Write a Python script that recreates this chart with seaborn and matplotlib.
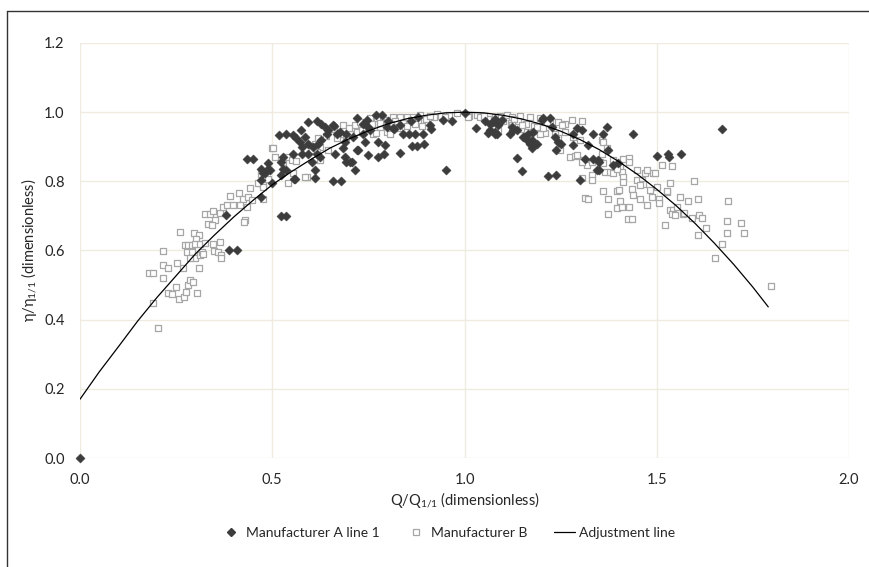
import matplotlib
matplotlib.use("Agg")
import matplotlib.pyplot as plt
from matplotlib.lines import Line2D
import seaborn as sns
import pandas as pd

# ---------------- data ----------------
a_x = [0.0, 0.38, 0.388, 0.409, 0.434, 0.451, 0.472, 0.481, 0.472, 0.49, 0.494, 0.477,
       0.471, 0.486, 0.499, 0.524, 0.536, 0.517, 0.535, 0.524, 0.529, 0.537, 0.524, 0.527,
       0.557, 0.555, 0.563, 0.572, 0.577, 0.585, 0.594, 0.616, 0.628, 0.637, 0.646, 0.659,
       0.668, 0.594, 0.607, 0.62, 0.628, 0.642, 0.594, 0.616, 0.624, 0.603, 0.555, 0.577,
       0.559, 0.611, 0.611, 0.659, 0.68, 0.663, 0.685, 0.689, 0.702, 0.715, 0.72, 0.741,
       0.75, 0.776, 0.72, 0.737, 0.75, 0.575, 0.661, 0.676, 0.693, 0.711, 0.737, 0.754,
       0.689, 0.691, 0.707, 0.724, 0.791, 0.776, 0.793, 0.833, 0.839, 0.856, 0.871, 0.891,
       0.864, 0.876, 0.895, 0.909, 0.913, 0.943, 0.967, 0.951, 1.0, 0.771, 0.785, 0.746,
       0.798, 0.815, 0.832, 0.817, 0.80, 0.86, 0.88,
       1.03, 1.053, 1.066, 1.062, 1.079, 1.088, 1.066, 1.075, 1.079, 1.097, 1.118, 1.123,
       1.136, 1.136, 1.149, 1.157, 1.166, 1.175, 1.179, 1.175, 1.188, 1.201, 1.222, 1.218,
       1.237, 1.235, 1.244, 1.238, 1.25, 1.283, 1.292, 1.305, 1.283, 1.30, 1.322, 1.333,
       1.361, 1.37, 1.374, 1.333, 1.351, 1.344, 1.351, 1.387, 1.40, 1.437, 1.50, 1.528,
       1.533, 1.562, 1.669, 1.084, 1.079, 1.127, 1.153, 1.162, 1.17, 1.179, 1.205, 1.227,
       1.313, 1.348]
a_y = [0.0, 0.702, 0.60, 0.60, 0.866, 0.866, 0.755, 0.823, 0.803, 0.853, 0.832, 0.823,
       0.835, 0.832, 0.794, 0.70, 0.70, 0.935, 0.937, 0.856, 0.837, 0.832, 0.818, 0.871,
       0.808, 0.934, 0.924, 0.914, 0.90, 0.929, 0.972, 0.975, 0.967, 0.958, 0.948, 0.962,
       0.938, 0.909, 0.90, 0.909, 0.919, 0.938, 0.88, 0.88, 0.871, 0.856, 0.88, 0.88,
       0.806, 0.832, 0.811, 0.801, 0.801, 0.88, 0.895, 0.871, 0.856, 0.832, 0.89, 0.914,
       0.876, 0.871, 0.982, 0.967, 0.958, 0.948, 0.96, 0.943, 0.938, 0.929, 0.938, 0.948,
       0.914, 0.856, 0.856, 0.892, 0.878, 0.914, 0.906, 0.882, 0.938, 0.938, 0.938, 0.938,
       0.902, 0.902, 0.908, 0.962, 0.951, 0.977, 0.975, 0.832, 0.998, 0.991, 0.991, 0.977,
       0.958, 0.953, 0.962, 0.95, 0.975, 0.975, 0.985,
       0.955, 0.975, 0.967, 0.941, 0.943, 0.962, 0.948, 0.972, 0.938, 0.977, 0.938, 0.958,
       0.948, 0.868, 0.829, 0.929, 0.938, 0.919, 0.909, 0.895, 0.909, 0.977, 0.982, 0.816,
       0.818, 0.929, 0.914, 0.892, 0.909, 0.938, 0.953, 0.948, 0.905, 0.805, 0.905, 0.938,
       0.938, 0.958, 0.89, 0.866, 0.856, 0.832, 0.832, 0.847, 0.852, 0.938, 0.873, 0.878,
       0.871, 0.879, 0.952, 0.938, 0.98, 0.948, 0.929, 0.919, 0.909, 0.943, 0.982, 0.958,
       0.866, 0.861]

b_x = [0.204, 0.191, 0.23, 0.238, 0.249, 0.258, 0.271, 0.276, 0.282, 0.286, 0.293, 0.305,
       0.31, 0.267, 0.253, 0.217, 0.23, 0.215, 0.18, 0.191, 0.215, 0.26, 0.297, 0.31, 0.302,
       0.273, 0.282, 0.29, 0.299, 0.312, 0.325, 0.277, 0.29, 0.299, 0.312, 0.316, 0.321,
       0.286, 0.347, 0.364, 0.349, 0.36, 0.368, 0.368, 0.325, 0.338, 0.351, 0.334, 0.343,
       0.345, 0.364, 0.373, 0.383, 0.39, 0.414, 0.425, 0.438, 0.442, 0.399, 0.416, 0.434,
       0.429, 0.427, 0.447, 0.468, 0.475, 0.477, 0.49, 0.47,
       0.499, 0.507, 0.529, 0.539, 0.551, 0.563, 0.542, 0.59, 0.624, 0.646, 0.624, 0.668,
       0.685, 0.72, 0.737, 0.754, 0.78, 0.798, 0.815, 0.832, 0.85, 0.867, 0.884, 0.928,
       1.011, 1.032, 0.798, 0.806, 0.78, 0.763, 0.503, 0.553, 0.585, 0.715, 0.728, 0.741,
       0.772, 0.702, 0.72, 0.733, 0.693, 0.676, 0.668, 0.62, 0.611, 0.603, 0.616, 0.464,
       0.477, 0.477,
       0.80, 0.82, 0.84, 0.86, 0.88, 0.90, 0.92, 0.94, 0.96, 0.85, 0.87, 0.83, 0.81, 0.76,
       0.78, 0.89, 0.91, 0.95, 0.98, 0.70, 0.66, 0.64, 0.75, 0.77,
       1.01, 1.092, 1.11, 1.123, 1.144, 1.17, 1.196, 1.222, 1.244, 1.261, 1.279, 1.305,
       1.253, 1.261, 1.244, 1.248, 1.235, 1.274, 1.287, 1.283, 1.30, 1.309, 1.318, 1.331,
       1.331, 1.305, 1.313, 1.322, 1.361, 1.374, 1.396, 1.402, 1.404, 1.374, 1.396, 1.409,
       1.429, 1.426, 1.435, 1.357, 1.361, 1.37, 1.352, 1.387, 1.413, 1.429, 1.429, 1.404,
       1.365, 1.378, 1.387, 1.409, 1.413, 1.413, 1.448, 1.469, 1.474, 1.491, 1.448, 1.461,
       1.465, 1.435, 1.439, 1.456, 1.474, 1.487, 1.50, 1.507, 1.513, 1.534, 1.526, 1.539,
       1.534, 1.543, 1.552, 1.56, 1.582, 1.521, 1.569, 1.591, 1.606, 1.609, 1.617, 1.597,
       1.606, 1.628, 1.669, 1.651, 1.682, 1.682, 1.686, 1.719, 1.727, 1.796,
       1.292, 1.305, 1.331, 1.361, 1.357, 1.396, 1.456, 1.482, 1.495, 1.507, 1.526, 1.539,
       1.547, 1.571,
       1.04, 1.06, 1.08, 1.10, 1.12, 1.14, 1.16, 1.18, 1.20, 1.15, 1.19, 1.21, 1.05, 1.13,
       1.088, 1.123, 1.149, 1.162, 1.188, 1.196, 1.205, 1.214]
b_y = [0.375, 0.449, 0.476, 0.474, 0.495, 0.461, 0.466, 0.481, 0.50, 0.514, 0.508, 0.476,
       0.55, 0.55, 0.565, 0.557, 0.55, 0.521, 0.534, 0.534, 0.599, 0.654, 0.652, 0.644, 0.632,
       0.616, 0.616, 0.616, 0.618, 0.618, 0.622, 0.596, 0.596, 0.577, 0.587, 0.596, 0.589,
       0.577, 0.618, 0.625, 0.598, 0.596, 0.587, 0.577, 0.705, 0.705, 0.688, 0.678, 0.673,
       0.715, 0.707, 0.725, 0.731, 0.757, 0.767, 0.75, 0.755, 0.782, 0.731, 0.731, 0.726,
       0.688, 0.683, 0.746, 0.794, 0.789, 0.823, 0.808, 0.821,
       0.897, 0.871, 0.856, 0.869, 0.863, 0.858, 0.794, 0.813, 0.861, 0.89, 0.90, 0.943,
       0.962, 0.962, 0.953, 0.982, 0.986, 0.977, 0.986, 0.986, 0.986, 0.986, 0.991, 0.996,
       0.988, 0.991, 0.943, 0.938, 0.958, 0.938, 0.895, 0.823, 0.813, 0.962, 0.972, 0.967,
       0.982, 0.938, 0.943, 0.948, 0.929, 0.938, 0.924, 0.924, 0.909, 0.89, 0.886, 0.794,
       0.784, 0.75,
       0.97, 0.975, 0.97, 0.978, 0.975, 0.98, 0.985, 0.99, 0.993, 0.96, 0.965, 0.955, 0.965,
       0.965, 0.97, 0.96, 0.99, 0.985, 0.997, 0.955, 0.95, 0.93, 0.95, 0.94,
       0.986, 0.988, 0.991, 0.986, 0.988, 0.986, 0.982, 0.972, 0.972, 0.967, 0.977, 0.974,
       0.962, 0.943, 0.924, 0.89, 0.938, 0.871, 0.873, 0.929, 0.919, 0.861, 0.847, 0.818,
       0.803, 0.811, 0.752, 0.75, 0.772, 0.75, 0.772, 0.775, 0.743, 0.705, 0.722, 0.725,
       0.725, 0.692, 0.692, 0.919, 0.914, 0.895, 0.856, 0.861, 0.866, 0.868, 0.856, 0.842,
       0.826, 0.826, 0.823, 0.828, 0.813, 0.799, 0.832, 0.823, 0.832, 0.823, 0.803, 0.803,
       0.792, 0.779, 0.76, 0.748, 0.731, 0.755, 0.784, 0.75, 0.847, 0.794, 0.77, 0.844,
       0.717, 0.717, 0.726, 0.755, 0.743, 0.673, 0.705, 0.693, 0.748, 0.702, 0.695, 0.801,
       0.644, 0.664, 0.618, 0.579, 0.685, 0.651, 0.743, 0.68, 0.651, 0.497,
       0.876, 0.856, 0.856, 0.852, 0.88, 0.837, 0.789, 0.775, 0.825, 0.736, 0.773, 0.705,
       0.704, 0.707,
       0.985, 0.98, 0.985, 0.975, 0.97, 0.975, 0.965, 0.96, 0.955, 0.95, 0.945, 0.94, 0.99,
       0.98, 0.948, 0.962, 0.962, 0.943, 0.958, 0.938, 0.953, 0.972]

fit_x = [0.0, 0.05, 0.1, 0.15, 0.2, 0.25, 0.3, 0.35, 0.4, 0.45, 0.5, 0.55, 0.6, 0.65,
         0.7, 0.75, 0.8, 0.85, 0.9, 0.95, 1.0, 1.05, 1.1, 1.15, 1.2, 1.25, 1.3, 1.35,
         1.4, 1.45, 1.5, 1.55, 1.6, 1.65, 1.7, 1.75, 1.79]
fit_y = [0.17, 0.249, 0.322, 0.396, 0.464, 0.527, 0.590, 0.645, 0.697, 0.745, 0.790,
         0.828, 0.863, 0.896, 0.923, 0.946, 0.966, 0.981, 0.991, 0.998, 1.0, 0.998,
         0.991, 0.980, 0.965, 0.945, 0.921, 0.892, 0.858, 0.820, 0.777, 0.730, 0.678,
         0.621, 0.560, 0.494, 0.437]

x_ticks = [0.0, 0.5, 1.0, 1.5, 2.0]
y_ticks = [0.0, 0.2, 0.4, 0.6, 0.8, 1.0, 1.2]

label_a = "Manufacturer A line 1"
label_b = "Manufacturer B"
label_fit = "Adjustment line"

# ---------------- styling ----------------
sns.set_theme(style="white")
plt.rcParams["font.family"] = ["Lato", "DejaVu Sans"]

GRID = "#EFEBE0"
TXT = "#262626"
A_COL = "#3C3C3C"
B_COL = "#A6A6A6"

fig = plt.figure(figsize=(8.69, 5.67), dpi=100)
ax = fig.add_axes([80 / 869, 1 - 458 / 567, (849 - 80) / 869, (458 - 43) / 567])

df_a = pd.DataFrame({"x": a_x, "y": a_y})
df_b = pd.DataFrame({"x": b_x, "y": b_y})
df_f = pd.DataFrame({"x": fit_x, "y": fit_y})

sns.scatterplot(data=df_b, x="x", y="y", ax=ax, marker="s", s=22,
                facecolor="white", edgecolor=B_COL, linewidth=0.9, legend=False, zorder=3)
sns.scatterplot(data=df_a, x="x", y="y", ax=ax, marker="D", s=22,
                color=A_COL, edgecolor=A_COL, linewidth=0.3, legend=False, zorder=4,
                clip_on=False)
sns.lineplot(data=df_f, x="x", y="y", ax=ax, color="black", linewidth=0.9,
             legend=False, zorder=5, sort=False)

ax.set_xlim(0, 2.0)
ax.set_ylim(0, 1.2)
ax.set_xticks(x_ticks)
ax.set_yticks(y_ticks)
ax.set_xticklabels([f"{v:.1f}" for v in x_ticks])
ax.set_yticklabels([f"{v:.1f}" for v in y_ticks])
ax.grid(True, color=GRID, linewidth=1.0, zorder=0)
ax.set_axisbelow(True)
for s in ax.spines.values():
    s.set_visible(False)
ax.tick_params(axis="both", length=3, color=GRID, labelsize=10.5, labelcolor=TXT, pad=8)

ax.set_xlabel(r"Q/Q$_{\mathregular{1/1}}$ (dimensionless)", fontsize=10.5, color=TXT,
              labelpad=2)
ax.set_ylabel(r"η/η$_{\mathregular{1/1}}$ (dimensionless)", fontsize=10.5, color=TXT,
              labelpad=4)

handles = [
    Line2D([], [], marker="D", color=A_COL, ls="none", markersize=4),
    Line2D([], [], marker="s", ls="none", markersize=5, markerfacecolor="white",
           markeredgecolor=B_COL, markeredgewidth=0.9),
    Line2D([], [], color="black", linewidth=0.9),
]
fig.legend(handles, [label_a, label_b, label_fit], loc="center",
           bbox_to_anchor=(448 / 869, 1 - 533 / 567), ncol=3, frameon=False,
           fontsize=10, handlelength=1.5, handletextpad=0.3, columnspacing=1.9,
           labelcolor=TXT)

# figure border (top and left)
fig.add_artist(Line2D([7 / 869, 7 / 869], [0, 1 - 11 / 567], color="#333333",
                      linewidth=1.0, transform=fig.transFigure))
fig.add_artist(Line2D([7 / 869, 1], [1 - 11 / 567, 1 - 11 / 567], color="#333333",
                      linewidth=1.0, transform=fig.transFigure))

fig.savefig("out.png", dpi=100, facecolor="white")
